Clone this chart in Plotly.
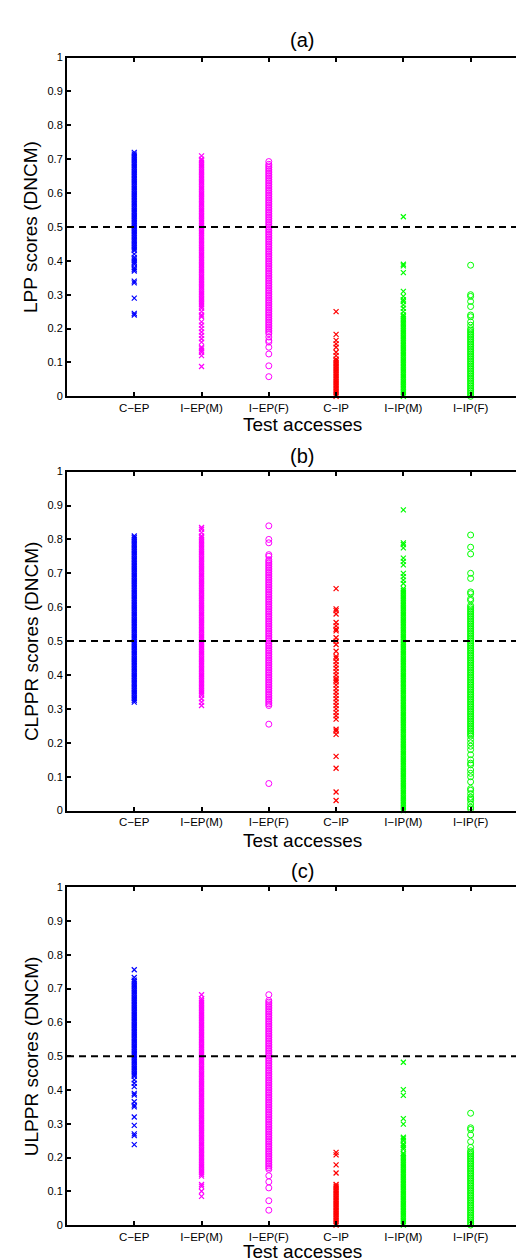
import plotly.graph_objects as go

categories = ["C−EP", "I−EP(M)", "I−EP(F)", "C−IP", "I−IP(M)", "I−IP(F)"]
category_x = [1, 2, 3, 4, 5, 6]
colors = ["#0000ff", "#ff00ff", "#ff00ff", "#ff0000", "#00ff00", "#00ff00"]
symbols = ["x-thin-open", "x-thin-open", "circle-open", "x-thin-open", "x-thin-open", "circle-open"]
panel_titles = ["(a)", "(b)", "(c)"]
y_titles = ["LPP scores (DNCM)", "CLPPR scores (DNCM)", "ULPPR scores (DNCM)"]
x_title = "Test accesses"
threshold = 0.5
y_tick_vals = [0, 0.1, 0.2, 0.3, 0.4, 0.5, 0.6, 0.7, 0.8, 0.9, 1.0]
y_tick_text = ["0", "0.1", "0.2", "0.3", "0.4", "0.5", "0.6", "0.7", "0.8", "0.9", "1"]

# ---------------- Panel (a): LPP ----------------
a_c_ep = [0.72, 0.715, 0.71, 0.705, 0.70, 0.695, 0.69, 0.685, 0.68, 0.675, 0.67, 0.665, 0.66, 0.655, 0.65,
          0.645, 0.64, 0.635, 0.63, 0.625, 0.62, 0.615, 0.61, 0.605, 0.60, 0.595, 0.59, 0.585, 0.58, 0.575,
          0.57, 0.565, 0.56, 0.555, 0.55, 0.545, 0.54, 0.535, 0.53, 0.525, 0.52, 0.515, 0.51, 0.505, 0.50,
          0.495, 0.49, 0.485, 0.48, 0.475, 0.47, 0.465, 0.46, 0.455, 0.45, 0.445, 0.44, 0.435, 0.43, 0.42,
          0.41, 0.405, 0.40, 0.395, 0.39, 0.38, 0.375, 0.37, 0.34, 0.335, 0.29, 0.245, 0.24]
a_i_ep_m = [0.71, 0.70, 0.695, 0.69, 0.685, 0.68, 0.675, 0.67, 0.665, 0.66, 0.655, 0.65, 0.645, 0.64, 0.635,
            0.63, 0.625, 0.62, 0.615, 0.61, 0.605, 0.60, 0.595, 0.59, 0.585, 0.58, 0.575, 0.57, 0.565, 0.56,
            0.555, 0.55, 0.545, 0.54, 0.535, 0.53, 0.525, 0.52, 0.515, 0.51, 0.505, 0.50, 0.495, 0.49, 0.485,
            0.48, 0.475, 0.47, 0.465, 0.46, 0.455, 0.45, 0.445, 0.44, 0.435, 0.43, 0.425, 0.42, 0.415, 0.41,
            0.405, 0.40, 0.395, 0.39, 0.385, 0.38, 0.375, 0.37, 0.365, 0.36, 0.355, 0.35, 0.345, 0.34, 0.335,
            0.33, 0.325, 0.32, 0.315, 0.31, 0.305, 0.30, 0.295, 0.29, 0.285, 0.28, 0.275, 0.27, 0.265, 0.26,
            0.25, 0.24, 0.235, 0.22, 0.21, 0.20, 0.19, 0.18, 0.17, 0.16, 0.145, 0.14, 0.135, 0.13, 0.12, 0.088]
a_i_ep_f = [0.693, 0.685, 0.68, 0.675, 0.67, 0.665, 0.66, 0.655, 0.65, 0.645, 0.64, 0.635, 0.63, 0.625, 0.62,
            0.615, 0.61, 0.605, 0.60, 0.595, 0.59, 0.585, 0.58, 0.575, 0.57, 0.565, 0.56, 0.555, 0.55, 0.545,
            0.54, 0.535, 0.53, 0.525, 0.52, 0.515, 0.51, 0.505, 0.50, 0.495, 0.49, 0.485, 0.48, 0.475, 0.47,
            0.465, 0.46, 0.455, 0.45, 0.445, 0.44, 0.435, 0.43, 0.425, 0.42, 0.415, 0.41, 0.405, 0.40, 0.395,
            0.39, 0.385, 0.38, 0.375, 0.37, 0.365, 0.36, 0.355, 0.35, 0.345, 0.34, 0.335, 0.33, 0.325, 0.32,
            0.315, 0.31, 0.305, 0.30, 0.295, 0.29, 0.285, 0.28, 0.275, 0.27, 0.265, 0.26, 0.255, 0.25, 0.245,
            0.24, 0.235, 0.23, 0.225, 0.22, 0.215, 0.21, 0.205, 0.20, 0.195, 0.19, 0.185, 0.175, 0.165, 0.16,
            0.145, 0.125, 0.09, 0.058]
a_c_ip = [0.25, 0.183, 0.165, 0.155, 0.145, 0.13, 0.12, 0.11, 0.105, 0.10, 0.095, 0.09, 0.085, 0.08, 0.075,
          0.07, 0.065, 0.06, 0.055, 0.05, 0.045, 0.04, 0.035, 0.03, 0.025, 0.02, 0.015, 0.01, 0.005, 0.0]
a_i_ip_m = [0.53, 0.39, 0.385, 0.365, 0.31, 0.295, 0.285, 0.28, 0.27, 0.26, 0.25, 0.24, 0.235, 0.23, 0.225,
            0.22, 0.215, 0.21, 0.205, 0.20, 0.195, 0.19, 0.185, 0.18, 0.175, 0.17, 0.165, 0.16, 0.155, 0.15,
            0.145, 0.14, 0.135, 0.13, 0.125, 0.12, 0.115, 0.11, 0.105, 0.10, 0.095, 0.09, 0.085, 0.08, 0.075,
            0.07, 0.065, 0.06, 0.055, 0.05, 0.045, 0.04, 0.035, 0.03, 0.025, 0.02, 0.015, 0.01, 0.005, 0.0]
a_i_ip_f = [0.387, 0.30, 0.295, 0.28, 0.265, 0.24, 0.235, 0.22, 0.21, 0.20, 0.195, 0.19, 0.185, 0.18, 0.175,
            0.17, 0.165, 0.16, 0.155, 0.15, 0.145, 0.14, 0.135, 0.13, 0.125, 0.12, 0.115, 0.11, 0.105, 0.10,
            0.095, 0.09, 0.085, 0.08, 0.075, 0.07, 0.065, 0.06, 0.055, 0.05, 0.045, 0.04, 0.035, 0.03, 0.025,
            0.02, 0.015, 0.01, 0.005, 0.0]

# ---------------- Panel (b): CLPPR ----------------
b_c_ep = [0.81, 0.805, 0.80, 0.795, 0.79, 0.785, 0.78, 0.775, 0.77, 0.765, 0.76, 0.755, 0.75, 0.745, 0.74,
          0.735, 0.73, 0.725, 0.72, 0.715, 0.71, 0.705, 0.70, 0.695, 0.69, 0.685, 0.68, 0.675, 0.67, 0.665,
          0.66, 0.655, 0.65, 0.645, 0.64, 0.635, 0.63, 0.625, 0.62, 0.615, 0.61, 0.605, 0.60, 0.595, 0.59,
          0.585, 0.58, 0.575, 0.57, 0.565, 0.56, 0.555, 0.55, 0.545, 0.54, 0.535, 0.53, 0.525, 0.52, 0.515,
          0.51, 0.505, 0.50, 0.495, 0.49, 0.485, 0.48, 0.475, 0.47, 0.465, 0.46, 0.455, 0.45, 0.445, 0.44,
          0.435, 0.43, 0.425, 0.42, 0.415, 0.41, 0.405, 0.40, 0.395, 0.39, 0.385, 0.38, 0.375, 0.37, 0.365,
          0.36, 0.355, 0.35, 0.345, 0.34, 0.335, 0.33, 0.325, 0.32]
b_i_ep_m = [0.835, 0.83, 0.82, 0.81, 0.805, 0.80, 0.795, 0.79, 0.785, 0.78, 0.775, 0.77, 0.765, 0.76, 0.755,
            0.75, 0.745, 0.74, 0.735, 0.73, 0.725, 0.72, 0.715, 0.71, 0.705, 0.70, 0.695, 0.69, 0.685, 0.68,
            0.675, 0.67, 0.665, 0.66, 0.655, 0.65, 0.645, 0.64, 0.635, 0.63, 0.625, 0.62, 0.615, 0.61, 0.605,
            0.60, 0.595, 0.59, 0.585, 0.58, 0.575, 0.57, 0.565, 0.56, 0.555, 0.55, 0.545, 0.54, 0.535, 0.53,
            0.525, 0.52, 0.515, 0.51, 0.505, 0.50, 0.495, 0.49, 0.485, 0.48, 0.475, 0.47, 0.465, 0.46, 0.455,
            0.45, 0.445, 0.44, 0.435, 0.43, 0.425, 0.42, 0.415, 0.41, 0.405, 0.40, 0.395, 0.39, 0.385, 0.38,
            0.375, 0.37, 0.365, 0.36, 0.355, 0.35, 0.345, 0.34, 0.33, 0.32, 0.31]
b_i_ep_f = [0.84, 0.80, 0.79, 0.755, 0.75, 0.74, 0.735, 0.73, 0.725, 0.72, 0.715, 0.71, 0.705, 0.70, 0.695,
            0.69, 0.685, 0.68, 0.675, 0.67, 0.665, 0.66, 0.655, 0.65, 0.645, 0.64, 0.635, 0.63, 0.625, 0.62,
            0.615, 0.61, 0.605, 0.60, 0.595, 0.59, 0.585, 0.58, 0.575, 0.57, 0.565, 0.56, 0.555, 0.55, 0.545,
            0.54, 0.535, 0.53, 0.525, 0.52, 0.515, 0.51, 0.505, 0.50, 0.495, 0.49, 0.485, 0.48, 0.475, 0.47,
            0.465, 0.46, 0.455, 0.45, 0.445, 0.44, 0.435, 0.43, 0.425, 0.42, 0.415, 0.41, 0.405, 0.40, 0.395,
            0.39, 0.385, 0.38, 0.375, 0.37, 0.365, 0.36, 0.355, 0.35, 0.345, 0.34, 0.335, 0.33, 0.325, 0.32,
            0.315, 0.31, 0.255, 0.08]
b_c_ip = [0.655, 0.595, 0.59, 0.58, 0.555, 0.545, 0.535, 0.53, 0.51, 0.50, 0.49, 0.47, 0.455, 0.45, 0.44,
          0.43, 0.42, 0.41, 0.40, 0.39, 0.385, 0.38, 0.37, 0.36, 0.35, 0.34, 0.33, 0.32, 0.31, 0.30, 0.29,
          0.28, 0.27, 0.24, 0.235, 0.225, 0.16, 0.125, 0.055, 0.03]
b_i_ip_m = [0.887, 0.79, 0.785, 0.775, 0.745, 0.735, 0.725, 0.70, 0.69, 0.68, 0.67, 0.655, 0.65, 0.645, 0.64,
            0.635, 0.63, 0.625, 0.62, 0.615, 0.61, 0.605, 0.60, 0.595, 0.59, 0.585, 0.58, 0.575, 0.57, 0.565,
            0.56, 0.555, 0.55, 0.545, 0.54, 0.535, 0.53, 0.525, 0.52, 0.515, 0.51, 0.505, 0.50, 0.495, 0.49,
            0.485, 0.48, 0.475, 0.47, 0.465, 0.46, 0.455, 0.45, 0.445, 0.44, 0.435, 0.43, 0.425, 0.42, 0.415,
            0.41, 0.405, 0.40, 0.395, 0.39, 0.385, 0.38, 0.375, 0.37, 0.365, 0.36, 0.355, 0.35, 0.345, 0.34,
            0.335, 0.33, 0.325, 0.32, 0.315, 0.31, 0.305, 0.30, 0.295, 0.29, 0.285, 0.28, 0.275, 0.27, 0.265,
            0.26, 0.255, 0.25, 0.245, 0.24, 0.235, 0.23, 0.225, 0.22, 0.215, 0.21, 0.205, 0.20, 0.195, 0.19,
            0.185, 0.18, 0.175, 0.17, 0.165, 0.16, 0.155, 0.15, 0.145, 0.14, 0.135, 0.13, 0.125, 0.12, 0.115,
            0.11, 0.105, 0.10, 0.095, 0.09, 0.085, 0.08, 0.075, 0.07, 0.065, 0.06, 0.055, 0.05, 0.045, 0.04,
            0.035, 0.03, 0.025, 0.02, 0.015, 0.01, 0.005, 0.0]
b_i_ip_f = [0.813, 0.777, 0.757, 0.70, 0.685, 0.645, 0.64, 0.625, 0.62, 0.605, 0.60, 0.595, 0.59, 0.585, 0.58,
            0.575, 0.57, 0.565, 0.56, 0.555, 0.55, 0.545, 0.54, 0.535, 0.53, 0.525, 0.52, 0.515, 0.51, 0.505,
            0.50, 0.495, 0.49, 0.485, 0.48, 0.475, 0.47, 0.465, 0.46, 0.455, 0.45, 0.445, 0.44, 0.435, 0.43,
            0.425, 0.42, 0.415, 0.41, 0.405, 0.40, 0.395, 0.39, 0.385, 0.38, 0.375, 0.37, 0.365, 0.36, 0.355,
            0.35, 0.345, 0.34, 0.335, 0.33, 0.325, 0.32, 0.315, 0.31, 0.305, 0.30, 0.295, 0.29, 0.285, 0.28,
            0.275, 0.27, 0.265, 0.26, 0.255, 0.25, 0.245, 0.24, 0.235, 0.23, 0.225, 0.22, 0.21, 0.20, 0.19,
            0.18, 0.165, 0.15, 0.14, 0.135, 0.12, 0.11, 0.10, 0.085, 0.065, 0.06, 0.05, 0.04, 0.035, 0.03,
            0.02, 0.01, 0.005]

# ---------------- Panel (c): ULPPR ----------------
c_c_ep = [0.756, 0.733, 0.725, 0.72, 0.715, 0.71, 0.705, 0.70, 0.695, 0.69, 0.685, 0.68, 0.675, 0.67, 0.665,
          0.66, 0.655, 0.65, 0.645, 0.64, 0.635, 0.63, 0.625, 0.62, 0.615, 0.61, 0.605, 0.60, 0.595, 0.59,
          0.585, 0.58, 0.575, 0.57, 0.565, 0.56, 0.555, 0.55, 0.545, 0.54, 0.535, 0.53, 0.525, 0.52, 0.515,
          0.51, 0.505, 0.50, 0.495, 0.49, 0.485, 0.48, 0.475, 0.47, 0.465, 0.46, 0.455, 0.45, 0.445, 0.44,
          0.43, 0.42, 0.41, 0.39, 0.385, 0.365, 0.355, 0.35, 0.32, 0.295, 0.27, 0.265, 0.238]
c_i_ep_m = [0.682, 0.67, 0.665, 0.66, 0.655, 0.65, 0.645, 0.64, 0.635, 0.63, 0.625, 0.62, 0.615, 0.61, 0.605,
            0.60, 0.595, 0.59, 0.585, 0.58, 0.575, 0.57, 0.565, 0.56, 0.555, 0.55, 0.545, 0.54, 0.535, 0.53,
            0.525, 0.52, 0.515, 0.51, 0.505, 0.50, 0.495, 0.49, 0.485, 0.48, 0.475, 0.47, 0.465, 0.46, 0.455,
            0.45, 0.445, 0.44, 0.435, 0.43, 0.425, 0.42, 0.415, 0.41, 0.405, 0.40, 0.395, 0.39, 0.385, 0.38,
            0.375, 0.37, 0.365, 0.36, 0.355, 0.35, 0.345, 0.34, 0.335, 0.33, 0.325, 0.32, 0.315, 0.31, 0.305,
            0.30, 0.295, 0.29, 0.285, 0.28, 0.275, 0.27, 0.265, 0.26, 0.255, 0.25, 0.245, 0.24, 0.235, 0.23,
            0.225, 0.22, 0.215, 0.21, 0.205, 0.20, 0.195, 0.19, 0.185, 0.18, 0.175, 0.17, 0.165, 0.16, 0.155,
            0.15, 0.145, 0.12, 0.115, 0.10, 0.085]
c_i_ep_f = [0.682, 0.665, 0.66, 0.655, 0.65, 0.645, 0.64, 0.635, 0.63, 0.625, 0.62, 0.615, 0.61, 0.605, 0.60,
            0.595, 0.59, 0.585, 0.58, 0.575, 0.57, 0.565, 0.56, 0.555, 0.55, 0.545, 0.54, 0.535, 0.53, 0.525,
            0.52, 0.515, 0.51, 0.505, 0.50, 0.495, 0.49, 0.485, 0.48, 0.475, 0.47, 0.465, 0.46, 0.455, 0.45,
            0.445, 0.44, 0.435, 0.43, 0.425, 0.42, 0.415, 0.41, 0.405, 0.40, 0.395, 0.39, 0.385, 0.38, 0.375,
            0.37, 0.365, 0.36, 0.355, 0.35, 0.345, 0.34, 0.335, 0.33, 0.325, 0.32, 0.315, 0.31, 0.305, 0.30,
            0.295, 0.29, 0.285, 0.28, 0.275, 0.27, 0.265, 0.26, 0.255, 0.25, 0.245, 0.24, 0.235, 0.23, 0.225,
            0.22, 0.215, 0.21, 0.205, 0.20, 0.195, 0.19, 0.185, 0.18, 0.175, 0.17, 0.165, 0.146, 0.128, 0.11,
            0.072, 0.044]
c_c_ip = [0.215, 0.208, 0.178, 0.154, 0.12, 0.115, 0.11, 0.105, 0.10, 0.095, 0.09, 0.085, 0.08, 0.075, 0.07,
          0.065, 0.06, 0.055, 0.05, 0.045, 0.04, 0.035, 0.03, 0.025, 0.02, 0.015, 0.01, 0.005, 0.0]
c_i_ip_m = [0.482, 0.401, 0.384, 0.315, 0.299, 0.26, 0.255, 0.25, 0.24, 0.235, 0.23, 0.225, 0.213, 0.21, 0.205,
            0.20, 0.195, 0.19, 0.185, 0.18, 0.175, 0.17, 0.165, 0.16, 0.155, 0.15, 0.145, 0.14, 0.135, 0.13,
            0.125, 0.12, 0.115, 0.11, 0.105, 0.10, 0.095, 0.09, 0.085, 0.08, 0.075, 0.07, 0.065, 0.06, 0.055,
            0.05, 0.045, 0.04, 0.035, 0.03, 0.025, 0.02, 0.015, 0.01, 0.005, 0.0]
c_i_ip_f = [0.331, 0.288, 0.283, 0.267, 0.247, 0.23, 0.22, 0.215, 0.21, 0.205, 0.20, 0.195, 0.19, 0.185, 0.18,
            0.175, 0.17, 0.165, 0.16, 0.155, 0.15, 0.145, 0.14, 0.135, 0.13, 0.125, 0.12, 0.115, 0.11, 0.105,
            0.10, 0.095, 0.09, 0.085, 0.08, 0.075, 0.07, 0.065, 0.06, 0.055, 0.05, 0.045, 0.04, 0.035, 0.03,
            0.025, 0.02, 0.015, 0.01, 0.005, 0.0]

panel_a = [a_c_ep, a_i_ep_m, a_i_ep_f, a_c_ip, a_i_ip_m, a_i_ip_f]
panel_b = [b_c_ep, b_i_ep_m, b_i_ep_f, b_c_ip, b_i_ip_m, b_i_ip_f]
panel_c = [c_c_ep, c_i_ep_m, c_i_ep_f, c_c_ip, c_i_ip_m, c_i_ip_f]
panels = [panel_a, panel_b, panel_c]

# ---------------- Layout geometry (pixels) ----------------
W, H = 524, 1260
left_px = 59
plot_px = [(44, 386), (462, 804.3), (881.7, 1222.7)]  # (top, bottom) of each axes box
title_px = [26, 446, 865]
xlabel_px = [414, 834, 1249]
x_range = [0, (W - left_px) / 67.27]
FONT = "Liberation Sans, Arial, Helvetica, sans-serif"

fig = go.Figure()
layout = dict(
    width=W, height=H,
    margin=dict(l=left_px, r=0, t=0, b=0),
    paper_bgcolor="white", plot_bgcolor="white",
    showlegend=False,
    font=dict(family=FONT, color="black"),
    annotations=[], shapes=[],
)

def py(px):
    return 1 - px / H

for i, data in enumerate(panels):
    n = "" if i == 0 else str(i + 1)
    xa, ya = "x" + n, "y" + n
    for j, vals in enumerate(data):
        fig.add_trace(go.Scatter(
            x=[category_x[j]] * len(vals), y=vals, mode="markers",
            xaxis=xa, yaxis=ya, cliponaxis=False, hoverinfo="skip",
            marker=dict(
                symbol=symbols[j],
                size=6 if symbols[j] == "circle-open" else 5,
                color=colors[j],
                line=dict(width=1 if symbols[j] == "circle-open" else 1.2, color=colors[j]),
            ),
        ))
    top, bot = plot_px[i]
    layout["xaxis" + n] = dict(
        domain=[0, 1], anchor=ya, range=x_range,
        tickmode="array", tickvals=category_x, ticktext=categories,
        ticks="inside", ticklen=4, tickwidth=1.5, tickcolor="black",
        showline=True, linewidth=2, linecolor="black", mirror="ticks",
        showgrid=False, zeroline=False,
        tickfont=dict(family=FONT, size=11.5, color="black"),
    )
    layout["yaxis" + n] = dict(
        domain=[py(bot), py(top)], anchor=xa, range=[0, 1],
        tickmode="array", tickvals=y_tick_vals, ticktext=y_tick_text,
        ticks="inside", ticklen=4, tickwidth=1.5, tickcolor="black",
        showline=True, linewidth=2, linecolor="black", mirror=False,
        showgrid=False, zeroline=False,
        tickfont=dict(family=FONT, size=11, color="black"),
    )
    layout["shapes"].append(dict(
        type="line", xref=xa + " domain", x0=0, x1=1, yref=ya, y0=threshold, y1=threshold,
        line=dict(color="black", width=2, dash="7px,5px"), layer="above",
    ))
    layout["annotations"].append(dict(
        text=panel_titles[i], xref=xa, x=3.5, yref="paper", y=py(title_px[i]),
        xanchor="center", yanchor="middle", showarrow=False,
        font=dict(family=FONT, size=20, color="black"),
    ))
    layout["annotations"].append(dict(
        text=x_title, xref=xa, x=3.5, yref="paper", y=py(xlabel_px[i]),
        xanchor="center", yanchor="middle", showarrow=False,
        font=dict(family=FONT, size=19, color="black"),
    ))
    layout["annotations"].append(dict(
        text=y_titles[i], xref="paper", x=(23 - left_px) / (W - left_px), yref="paper",
        y=py((top + bot) / 2), xanchor="center", yanchor="middle", textangle=-90, showarrow=False,
        font=dict(family=FONT, size=19, color="black"),
    ))

fig.update_layout(**layout)
fig.write_html("out.html")
